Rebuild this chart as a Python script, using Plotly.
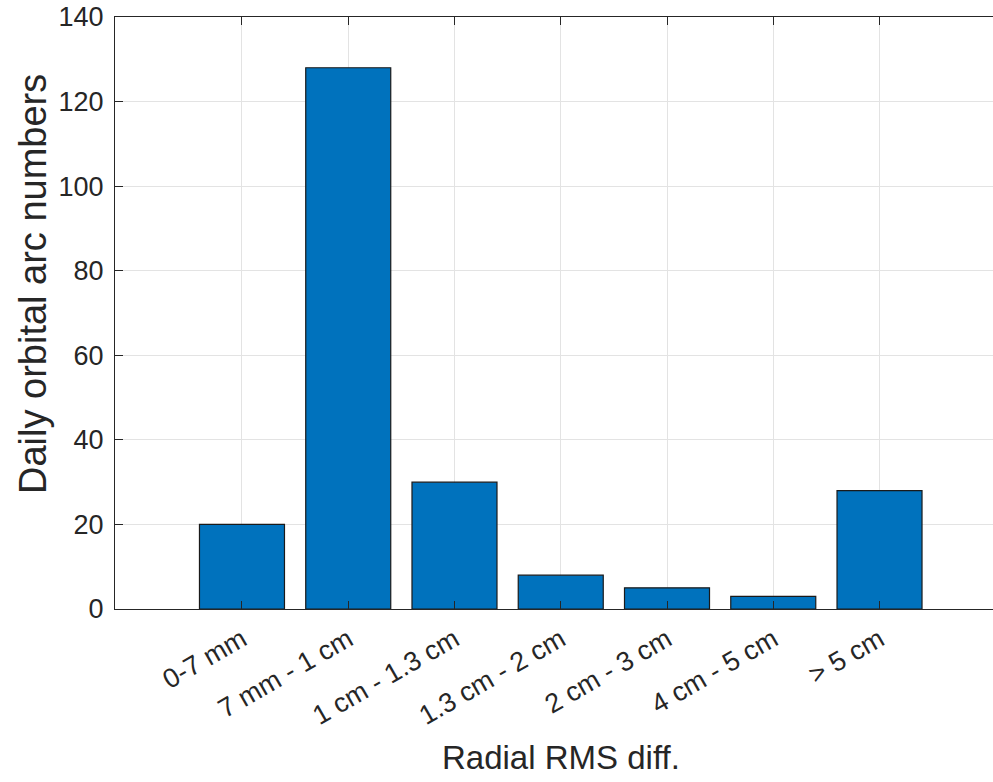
import plotly.graph_objects as go

categories = ["0-7 mm", "7 mm - 1 cm", "1 cm - 1.3 cm", "1.3 cm - 2 cm",
              "2 cm - 3 cm", "4 cm - 5 cm", "> 5 cm"]
counts = [20, 128, 30, 8, 5, 3, 28]
y_ticks = [0, 20, 40, 60, 80, 100, 120, 140]
x_label = "Radial RMS diff."
y_label = "Daily orbital arc numbers"

positions = list(range(1, len(categories) + 1))

FONT = "Liberation Sans, Arial, sans-serif"
TXT = "#262626"

W, H = 993, 782
ML, MT, PH = 115, 17, 592
PW = W - ML
MB = H - MT - PH

fig = go.Figure()
fig.add_trace(go.Bar(
    x=positions, y=counts, width=0.8,
    marker=dict(color="#0072BD", line=dict(color="#1a1a1a", width=1.2)),
))

fig.update_layout(
    width=W, height=H,
    margin=dict(l=ML, r=0, t=MT, b=MB),
    paper_bgcolor="white", plot_bgcolor="white",
    showlegend=False,
    font=dict(family=FONT, color=TXT),
    xaxis=dict(
        range=[-0.195, 8.068],
        tickmode="array", tickvals=positions, ticktext=categories,
        tickangle=-30,
        tickfont=dict(size=27, color=TXT, family=FONT),
        ticks="inside", ticklen=8, tickcolor=TXT, tickwidth=1,
        showline=True, linecolor=TXT, linewidth=1.2,
        mirror="ticks",
        showgrid=True, gridcolor="#e3e3e3", gridwidth=1,
        zeroline=False,
        ticklabelstandoff=3,
    ),
    yaxis=dict(
        range=[0, 140],
        tickmode="array", tickvals=y_ticks,
        tickfont=dict(size=27, color=TXT, family=FONT),
        ticks="inside", ticklen=8, tickcolor=TXT, tickwidth=1,
        showline=True, linecolor=TXT, linewidth=1.2,
        mirror=False,
        showgrid=True, gridcolor="#e3e3e3", gridwidth=1,
        zeroline=False,
        ticklabelstandoff=5,
    ),
    annotations=[
        dict(text=x_label, x=4, xref="x", y=-(757 - (MT + PH)) / PH, yref="paper",
             yanchor="middle", showarrow=False,
             font=dict(size=33, color=TXT, family=FONT)),
        dict(text=y_label, x=(33 - ML) / PW, xref="paper",
             y=(MT + PH - 284) / PH, yref="paper",
             xanchor="center", yanchor="middle", textangle=-90, showarrow=False,
             font=dict(size=38, color=TXT, family=FONT)),
    ],
)

fig.write_html("out.html", config={"displayModeBar": False},
               post_script="document.body.style.margin='0';document.body.style.overflow='hidden';")
